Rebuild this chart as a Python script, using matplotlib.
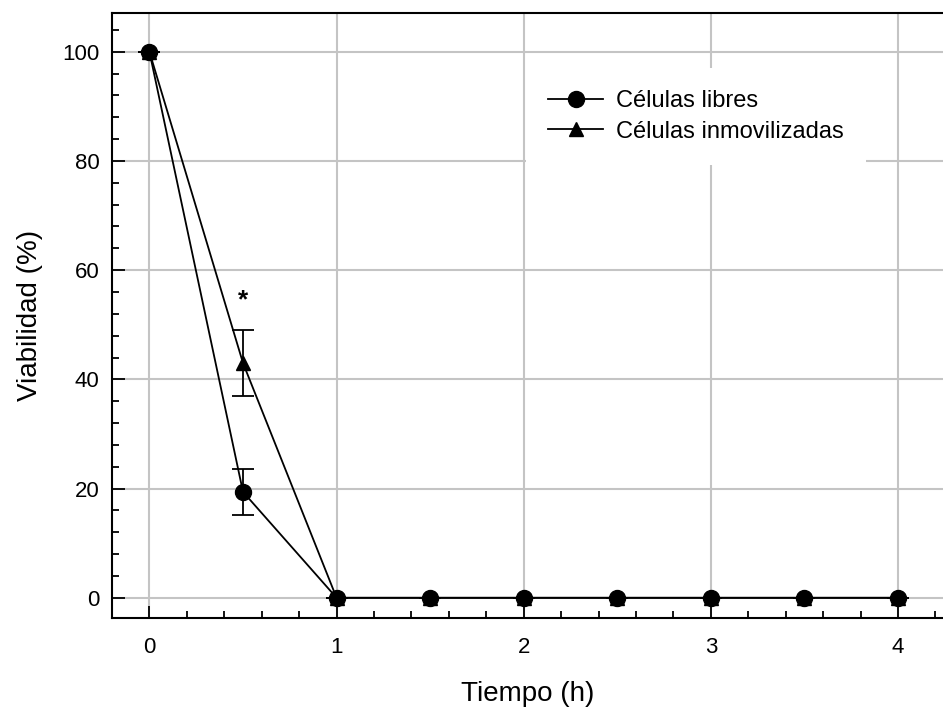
import matplotlib
matplotlib.use("Agg")
import matplotlib.pyplot as plt
from matplotlib.ticker import MultipleLocator
from matplotlib.lines import Line2D

plt.rcParams['font.family'] = ['Liberation Sans', 'DejaVu Sans']

tiempo = [0, 0.5, 1, 1.5, 2, 2.5, 3, 3.5, 4]
libres = [100, 19.4, 0, 0, 0, 0, 0, 0, 0]
libres_err = [0, 4.2, 0, 0, 0, 0, 0, 0, 0]
inmov = [100, 43.0, 0, 0, 0, 0, 0, 0, 0]
inmov_err = [0, 6.1, 0, 0, 0, 0, 0, 0, 0]

fig = plt.figure(figsize=(9.43, 7.12), dpi=100)
ax = fig.add_axes([112/943, 1-618/712, 1-112/943, (618-13)/712])

ax.errorbar(tiempo, inmov, yerr=inmov_err, fmt='none', ecolor='black',
            capsize=8, elinewidth=1.3, capthick=1.3, zorder=2)
ax.errorbar(tiempo, libres, yerr=libres_err, fmt='none', ecolor='black',
            capsize=8, elinewidth=1.3, capthick=1.3, zorder=2)
ax.plot(tiempo, inmov, color='black', lw=1.3, marker='^', markersize=10, zorder=3)
ax.plot(tiempo, libres, color='black', lw=1.3, marker='o', markersize=11.5, zorder=4)

ax.text(0.5, 54.5, '*', ha='center', va='center', fontsize=19, fontweight='bold')

ax.set_xlim(-0.2, (943-150)/187)
ax.set_ylim(-3.7, 107.1)
ax.xaxis.set_major_locator(MultipleLocator(1))
ax.xaxis.set_minor_locator(MultipleLocator(0.2))
ax.yaxis.set_major_locator(MultipleLocator(20))
ax.yaxis.set_minor_locator(MultipleLocator(4))
ax.tick_params(which='major', direction='in', length=9, width=1.3, labelsize=16, pad=14)
ax.tick_params(which='minor', direction='in', length=5, width=1.3)
ax.tick_params(axis='y', pad=9)
ax.grid(True, which='major', color='#c4c4c4', lw=1.5, zorder=0)
ax.set_axisbelow(True)
for s in ['left', 'bottom', 'top']:
    ax.spines[s].set_linewidth(1.5)
ax.spines['right'].set_visible(False)

ax.set_xlabel('Tiempo (h)', fontsize=20, labelpad=16)
ax.set_ylabel('Viabilidad (%)', fontsize=20, labelpad=14)

handles = [Line2D([], [], color='black', lw=1.3, marker='o', markersize=11.5),
           Line2D([], [], color='black', lw=1.3, marker='^', markersize=10)]
labels = ['Células libres', 'Células inmovilizadas']
leg = ax.legend(handles, labels, loc='upper left',
                bbox_to_anchor=((526-112)/831, (618-68)/605),
                frameon=True, fancybox=False, edgecolor='white', framealpha=1,
                fontsize=17, handlelength=2.3, handletextpad=0.55,
                borderpad=0.95, labelspacing=0.35, borderaxespad=0)
leg.get_frame().set_linewidth(0)

fig.savefig('out.png', dpi=100)
